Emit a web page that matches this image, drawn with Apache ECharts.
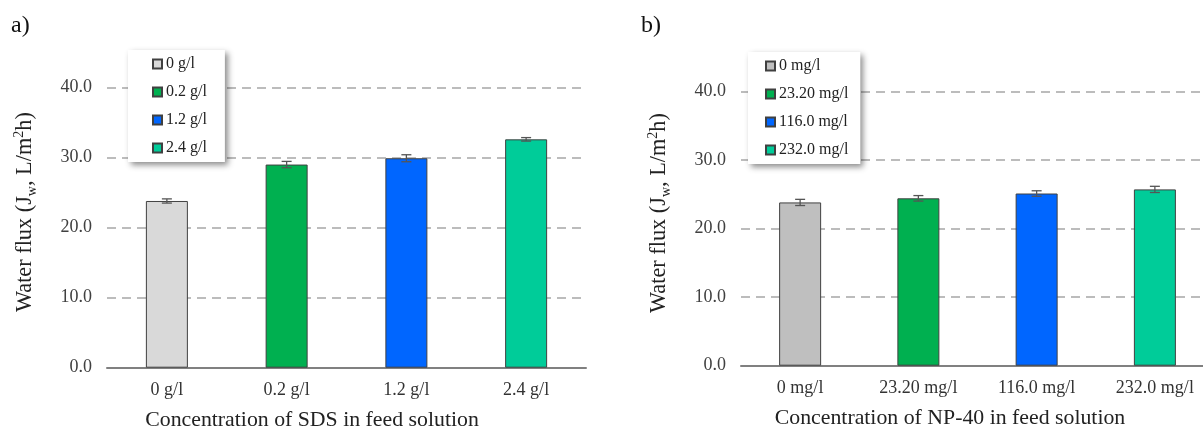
<!DOCTYPE html>
<html>
<head>
<meta charset="utf-8">
<script src="https://cdn.jsdelivr.net/npm/echarts@6/dist/echarts.min.js"></script>
<style>
html,body{margin:0;padding:0;background:#fff;}
#chart{width:1203px;height:432px;}
</style>
</head>
<body>
<div id="chart"></div>
<script>
// ---- data ----
const catsA = ['0 g/l', '0.2 g/l', '1.2 g/l', '2.4 g/l'];
const valsA = [23.8, 29.0, 29.9, 32.6];
const errA = [0.3, 0.45, 0.5, 0.25];
const colorsA = ['#d9d9d9', '#00b050', '#0066ff', '#00cc99'];

const catsB = ['0 mg/l', '23.20 mg/l', '116.0 mg/l', '232.0 mg/l'];
const valsB = [23.8, 24.4, 25.1, 25.7];
const errB = [0.45, 0.4, 0.4, 0.45];
const colorsB = ['#bfbfbf', '#00b050', '#0066ff', '#00cc99'];

const yTicks = [0, 10, 20, 30, 40];
const xTitleA = 'Concentration of SDS in feed solution';
const xTitleB = 'Concentration of NP-40 in feed solution';
const yTitle = 'Water flux (J{sub|w}, L/m{sup|2}h)';

// ---- styles ----
const SERIF = "'Liberation Serif', 'Times New Roman', serif";

function yAxis(gridIndex) {
  return {
    type: 'value', gridIndex: gridIndex, min: 0, max: 40, interval: 10,
    axisLine: {show: false}, axisTick: {show: false},
    axisLabel: {color: '#404040', fontFamily: SERIF, fontSize: 18, margin: 15,
      formatter: v => yTicks.includes(v) ? v.toFixed(1) : ''},
    splitLine: {lineStyle: {color: '#a6a6a6', width: 1.5, type: [9, 6]}},
    name: yTitle, nameLocation: 'middle', nameGap: 68,
    nameTextStyle: {color: '#222', fontFamily: SERIF, fontSize: 22.3, lineHeight: 27,
      padding: [0, 0, 0, 31],
      rich: {
        sub: {fontFamily: SERIF, fontSize: 14, verticalAlign: 'bottom', lineHeight: 27},
        sup: {fontFamily: SERIF, fontSize: 14, verticalAlign: 'top', lineHeight: 27}
      }}
  };
}
function xAxis(gridIndex, cats, title, shift) {
  return {
    type: 'category', gridIndex: gridIndex, data: cats,
    axisLine: {lineStyle: {color: '#808080', width: 2}},
    axisTick: {show: false},
    axisLabel: {color: '#333', fontFamily: SERIF, fontSize: 18, margin: 14},
    name: title, nameLocation: 'middle', nameGap: 42,
    nameTextStyle: {color: '#222', fontFamily: SERIF, fontSize: 21.8, padding: [0, shift, 0, 0]}
  };
}
function barSeries(idx, cats, vals, colors) {
  return cats.map((c, i) => ({
    type: 'bar', name: c, xAxisIndex: idx, yAxisIndex: idx,
    data: cats.map((cc, j) => j === i ? vals[j] : '-'),
    barWidth: 42, barGap: '-100%',
    itemStyle: {color: colors[i], borderColor: '#404040', borderWidth: 1},
    emphasis: {disabled: true}
  }));
}
function errSeries(idx, vals, errs) {
  return {
    type: 'custom', xAxisIndex: idx, yAxisIndex: idx, z: 5,
    data: vals.map((v, i) => [i, v, errs[i]]),
    renderItem: function (params, api) {
      const x = api.value(0), y = api.value(1), e = api.value(2);
      const t = api.coord([x, y + e]);
      const b = api.coord([x, y - e]);
      const st = {stroke: '#555', lineWidth: 1.3};
      const w = 5;
      return {type: 'group', children: [
        {type: 'line', shape: {x1: t[0], y1: t[1], x2: b[0], y2: b[1]}, style: st},
        {type: 'line', shape: {x1: t[0] - w, y1: t[1], x2: t[0] + w, y2: t[1]}, style: st},
        {type: 'line', shape: {x1: b[0] - w, y1: b[1], x2: b[0] + w, y2: b[1]}, style: st}
      ]};
    }
  };
}
function legend(names, left, top, padding) {
  return {
    data: names, orient: 'vertical', left: left, top: top,
    padding: padding, itemGap: 12, itemWidth: 9, itemHeight: 9, icon: 'rect',
    backgroundColor: '#fff',
    shadowBlur: 6, shadowColor: 'rgba(0,0,0,0.45)', shadowOffsetX: 3, shadowOffsetY: 3,
    selectedMode: false,
    textStyle: {color: '#222', fontFamily: SERIF, fontSize: 16, lineHeight: 16, padding: [0, 0, 0, -1]}
  };
}

const chart = echarts.init(document.getElementById('chart'), null, {renderer: 'canvas'});
chart.setOption({
  animation: false,
  backgroundColor: '#fff',
  grid: [
    {left: 107, top: 87.5, width: 479, height: 280.2, containLabel: false, outerBoundsMode: 'none'},
    {left: 741, top: 91.3, width: 473, height: 274.4, containLabel: false, outerBoundsMode: 'none'}
  ],
  xAxis: [xAxis(0, catsA, xTitleA, 69), xAxis(1, catsB, xTitleB, 55)],
  yAxis: [yAxis(0), yAxis(1)],
  legend: [
    legend(catsA, 128, 50, [6, 18, 6, 24]),
    legend(catsB, 748, 52, [6, 12, 6, 17])
  ],
  graphic: [
    {type: 'text', left: 11, top: 14, style: {text: 'a)', font: "24px 'Liberation Serif', serif", fill: '#111'}},
    {type: 'text', left: 641, top: 14, style: {text: 'b)', font: "24px 'Liberation Serif', serif", fill: '#111'}}
  ],
  series: [].concat(
    barSeries(0, catsA, valsA, colorsA),
    barSeries(1, catsB, valsB, colorsB),
    [errSeries(0, valsA, errA), errSeries(1, valsB, errB)]
  )
});
</script>
</body>
</html>
